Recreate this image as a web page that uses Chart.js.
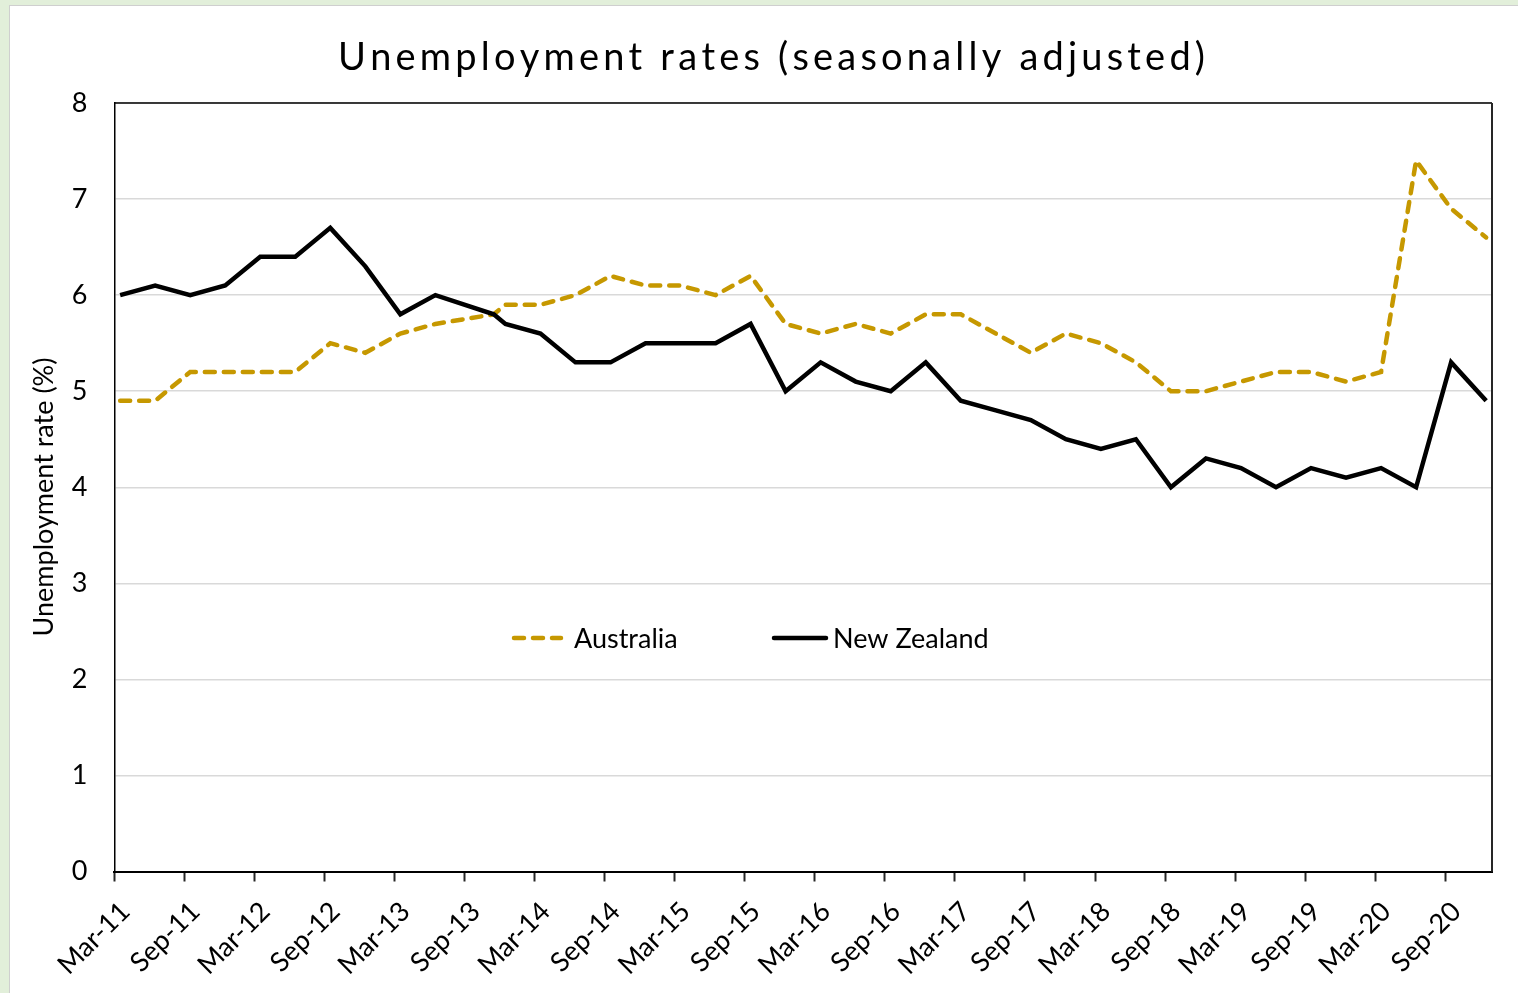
<!DOCTYPE html>
<html>
<head>
<meta charset="utf-8">
<title>Unemployment rates (seasonally adjusted)</title>
<script src="https://cdn.jsdelivr.net/npm/chart.js@4.4.1/dist/chart.umd.min.js"></script>
<style>
  html, body { margin: 0; padding: 0; overflow: hidden; background: #e2efda; }
  #wrap { position: relative; width: 1518px; height: 993px; }
</style>
</head>
<body>
<div id="wrap"><canvas id="chart"></canvas></div>
<script>
// Quarter names of the observations
const quarters = [
  'Mar-11','Jun-11','Sep-11','Dec-11','Mar-12','Jun-12','Sep-12','Dec-12',
  'Mar-13','Jun-13','Sep-13','Dec-13','Mar-14','Jun-14','Sep-14','Dec-14',
  'Mar-15','Jun-15','Sep-15','Dec-15','Mar-16','Jun-16','Sep-16','Dec-16',
  'Mar-17','Jun-17','Sep-17','Dec-17','Mar-18','Jun-18','Sep-18','Dec-18',
  'Mar-19','Jun-19','Sep-19','Dec-19','Mar-20','Jun-20','Sep-20','Dec-20'
];

// Month each observation is dated at in the source sheet (the Sep-13 row carries a November date)
const obsMonths = [
  '2011-03','2011-06','2011-09','2011-12','2012-03','2012-06','2012-09','2012-12',
  '2013-03','2013-06','2013-11','2013-12','2014-03','2014-06','2014-09','2014-12',
  '2015-03','2015-06','2015-09','2015-12','2016-03','2016-06','2016-09','2016-12',
  '2017-03','2017-06','2017-09','2017-12','2018-03','2018-06','2018-09','2018-12',
  '2019-03','2019-06','2019-09','2019-12','2020-03','2020-06','2020-09','2020-12'
];

// Unemployment rate, % (seasonally adjusted)
const australia = [
  4.9, 4.9, 5.2, 5.2, 5.2, 5.2, 5.5, 5.4,
  5.6, 5.7, 5.8, 5.9, 5.9, 6.0, 6.2, 6.1,
  6.1, 6.0, 6.2, 5.7, 5.6, 5.7, 5.6, 5.8,
  5.8, 5.6, 5.4, 5.6, 5.5, 5.3, 5.0, 5.0,
  5.1, 5.2, 5.2, 5.1, 5.2, 7.4, 6.9, 6.6
];
const newZealand = [
  6.0, 6.1, 6.0, 6.1, 6.4, 6.4, 6.7, 6.3,
  5.8, 6.0, 5.8, 5.7, 5.6, 5.3, 5.3, 5.5,
  5.5, 5.5, 5.7, 5.0, 5.3, 5.1, 5.0, 5.3,
  4.9, 4.8, 4.7, 4.5, 4.4, 4.5, 4.0, 4.3,
  4.2, 4.0, 4.2, 4.1, 4.2, 4.0, 5.3, 4.9
];

// Axis labels every six months
const tickLabels = [
  'Mar-11','Sep-11','Mar-12','Sep-12','Mar-13','Sep-13','Mar-14','Sep-14',
  'Mar-15','Sep-15','Mar-16','Sep-16','Mar-17','Sep-17','Mar-18','Sep-18',
  'Mar-19','Sep-19','Mar-20','Sep-20'
];

const seriesNames = ['Australia', 'New Zealand'];
const titleText = 'Unemployment rates (seasonally adjusted)';
const yAxisTitle = 'Unemployment rate (%)';

const GOLD = '#c69800';
const FONT = 'Lato, "Open Sans", sans-serif';

// Month axis: one slot per month, points sit in the middle of their month
function monthNumber(s) {
  const [y, m] = s.split('-').map(Number);
  return y * 12 + (m - 1);
}
const firstMonth = monthNumber(obsMonths[0]);
const monthSlots = monthNumber(obsMonths[obsMonths.length - 1]) - firstMonth + 1;
const xOf = s => monthNumber(s) - firstMonth + 0.5;

const ausPoints = australia.map((v, i) => ({ x: xOf(obsMonths[i]), y: v, q: quarters[i] }));
const nzPoints = newZealand.map((v, i) => ({ x: xOf(obsMonths[i]), y: v, q: quarters[i] }));

// Sheet background, white chart panel
const panelPlugin = {
  id: 'panel',
  beforeDraw(chart) {
    const { ctx, width, height } = chart;
    ctx.save();
    ctx.fillStyle = '#e2efda';
    ctx.fillRect(0, 0, width, height);
    ctx.fillStyle = '#ffffff';
    ctx.fillRect(10, 6, width - 10, height - 6);
    ctx.strokeStyle = '#cfcfcf';
    ctx.lineWidth = 1;
    ctx.strokeRect(9.5, 5.5, width, height);
    ctx.restore();
  }
};

// Draw a string with extra space between the characters
function spacedText(ctx, text, cx, y, targetWidth) {
  const chars = Array.from(text);
  const widths = chars.map(c => ctx.measureText(c).width);
  const natural = widths.reduce((a, b) => a + b, 0);
  const gap = (targetWidth - natural) / (chars.length - 1);
  let x = cx - targetWidth / 2;
  chars.forEach((c, i) => {
    ctx.fillText(c, x, y);
    x += widths[i] + gap;
  });
}

// Chart title and rotated y-axis title
const titlesPlugin = {
  id: 'titles',
  afterDraw(chart) {
    const { ctx } = chart;
    ctx.save();
    ctx.fillStyle = '#000';
    ctx.textAlign = 'left';
    ctx.textBaseline = 'alphabetic';
    ctx.font = '38px ' + FONT;
    spacedText(ctx, titleText, 771.5, 70, 867);

    ctx.translate(44, 497);
    ctx.rotate(-Math.PI / 2);
    ctx.font = '27px ' + FONT;
    ctx.textAlign = 'center';
    ctx.textBaseline = 'middle';
    ctx.fillText(yAxisTitle, 0, 0);
    ctx.restore();
  }
};

// Top and right edges of the plot frame
const framePlugin = {
  id: 'frame',
  afterDatasetsDraw(chart) {
    const { ctx, chartArea: a } = chart;
    ctx.save();
    ctx.lineWidth = 1.5;
    ctx.strokeStyle = '#000';
    ctx.beginPath();
    ctx.moveTo(a.left, a.top);
    ctx.lineTo(a.right, a.top);
    ctx.stroke();
    ctx.lineWidth = 2;
    ctx.strokeStyle = '#262626';
    ctx.beginPath();
    ctx.moveTo(a.right, a.top);
    ctx.lineTo(a.right, a.bottom);
    ctx.stroke();
    ctx.restore();
  }
};

// Legend drawn inside the plot area
const innerLegendPlugin = {
  id: 'innerLegend',
  afterDatasetsDraw(chart) {
    const { ctx } = chart;
    const y = 638;
    const items = [
      { x0: 514, x1: 561, tx: 574, ds: chart.data.datasets[0] },
      { x0: 774, x1: 826, tx: 833, ds: chart.data.datasets[1] }
    ];
    ctx.save();
    items.forEach(it => {
      ctx.strokeStyle = it.ds.borderColor;
      ctx.lineWidth = it.ds.borderWidth;
      ctx.lineCap = 'round';
      ctx.setLineDash(it.ds.borderDash || []);
      ctx.beginPath();
      ctx.moveTo(it.x0, y);
      ctx.lineTo(it.x1, y);
      ctx.stroke();
      ctx.setLineDash([]);
      ctx.font = '27px ' + FONT;
      ctx.fillStyle = '#000';
      ctx.textBaseline = 'middle';
      ctx.textAlign = 'left';
      ctx.fillText(it.ds.label, it.tx, y + 1);
    });
    ctx.restore();
  }
};

new Chart(document.getElementById('chart'), {
  type: 'line',
  data: {
    datasets: [
      {
        label: seriesNames[0],
        data: ausPoints,
        borderColor: GOLD,
        borderWidth: 4.5,
        borderDash: [10, 9],
        borderCapStyle: 'round',
        pointRadius: 0,
        tension: 0,
        fill: false,
        order: 1
      },
      {
        label: seriesNames[1],
        data: nzPoints,
        borderColor: '#000000',
        borderWidth: 4.5,
        pointRadius: 0,
        tension: 0,
        fill: false,
        order: 0
      }
    ]
  },
  options: {
    responsive: true,
    maintainAspectRatio: false,
    animation: false,
    devicePixelRatio: 1,
    layout: { padding: { top: 103, right: 26, left: 0, bottom: 0 } },
    plugins: {
      legend: { display: false },
      title: { display: false },
      tooltip: { enabled: false }
    },
    scales: {
      x: {
        type: 'linear',
        min: 0,
        max: monthSlots,
        afterBuildTicks(scale) {
          scale.ticks = tickLabels.map((_, k) => ({ value: k * 6 }));
        },
        afterFit(scale) { scale.height = 121.5; },
        grid: {
          drawOnChartArea: false,
          drawTicks: true,
          tickLength: 10,
          tickColor: '#262626',
          tickWidth: 2
        },
        border: { display: true, color: '#000', width: 2 },
        ticks: {
          autoSkip: false,
          minRotation: 45,
          maxRotation: 45,
          padding: 14,
          labelOffset: 11,
          color: '#000',
          font: { family: FONT, size: 27 },
          callback: v => tickLabels[Math.round(v / 6)]
        }
      },
      y: {
        min: 0,
        max: 8,
        afterFit(scale) { scale.width = 114.3; },
        grid: {
          color: '#d9d9d9',
          lineWidth: 1.5,
          drawTicks: false
        },
        border: { display: true, color: '#000', width: 1.5 },
        ticks: {
          stepSize: 1,
          padding: 27,
          color: '#000',
          font: { family: FONT, size: 27 }
        }
      }
    }
  },
  plugins: [panelPlugin, titlesPlugin, framePlugin, innerLegendPlugin]
});
</script>
</body>
</html>
